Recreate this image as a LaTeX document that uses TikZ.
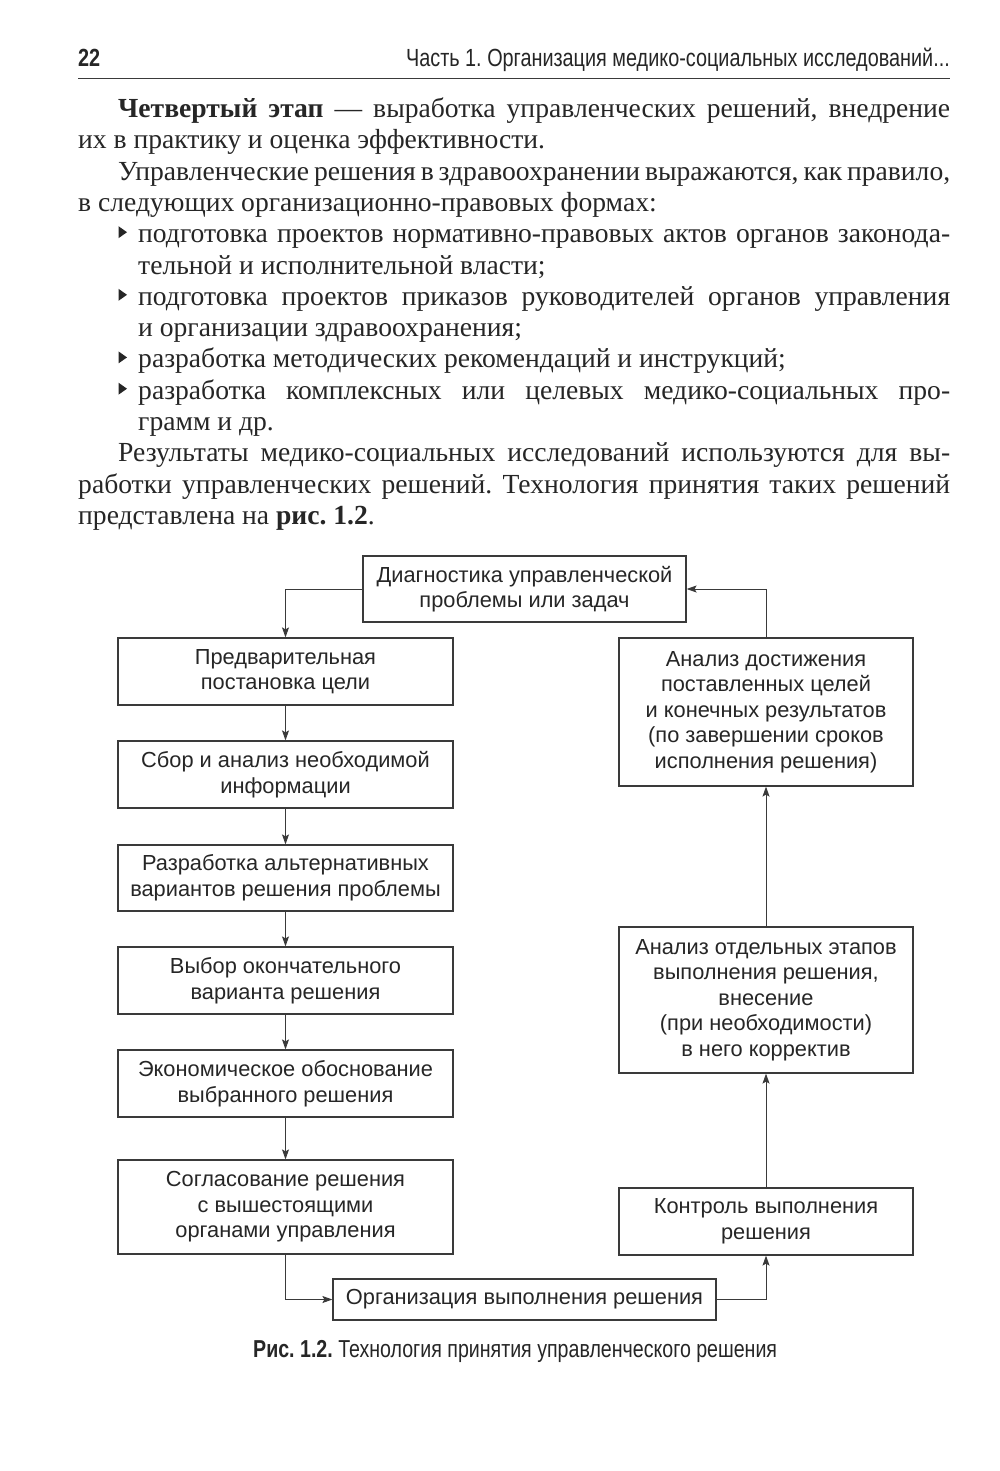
\documentclass[tikz,border=0pt]{standalone}
\usepackage{fontspec}
\setmainfont{Liberation Serif}
\newfontfamily\diagf{Liberation Sans}
\newfontfamily\condf[FakeStretch=0.8]{Liberation Sans}
\usetikzlibrary{arrows.meta}
\definecolor{ink}{HTML}{262626}
\definecolor{lineink}{HTML}{3A3A3A}
\tikzset{
  bodyline/.style={anchor=base west, inner sep=0pt, text=ink, font=\fontsize{27.6}{31}\selectfont},
  box/.style={draw=lineink, line width=1.2pt, rectangle, inner sep=0pt, align=center,
    text=ink, font=\diagf\fontsize{21.8}{25.6}\selectfont},
  conn/.style={draw=lineink, line width=1pt, -{Stealth[length=10pt,width=7pt,inset=2pt]}},
  bulletmark/.style={fill=ink}
}
\newcommand\jl[2]{\makebox[#1][s]{#2}}
\frenchspacing
\begin{document}
\begin{tikzpicture}[x=1pt,y=-1pt]
\useasboundingbox (0,0) rectangle (1000,1471);
\fill[white] (0,0) rectangle (1000,1471);
% header
\node[anchor=base west, inner sep=0pt, text=ink, font=\condf\bfseries\fontsize{24.8}{24.8}\selectfont] (pg) at (78,67) {22};
\node[anchor=base east, inner sep=0pt, text=ink, font=\condf\fontsize{24.8}{24.8}\selectfont] (hd) at (950,67) {Часть 1. Организация медико-социальных исследований...};
\draw[lineink, line width=1.5pt] (78,78.5) -- (950,78.5);
% body
\node[bodyline] (l1) at (118,117.5) {\jl{832pt}{\textbf{Четвертый этап} — выработка управленческих решений, внедрение}};
\node[bodyline] (l2) at (78,148.8) {их в практику и оценка эффективности.};
\node[bodyline] (l3) at (118,180.1) {\jl{832pt}{Управленческие решения в здравоохранении выражаются, как правило,}};
\node[bodyline] (l4) at (78,211.4) {в следующих организационно-правовых формах:};
\node[bodyline] (l5) at (138,242.7) {\jl{812pt}{подготовка проектов нормативно-правовых актов органов законода-}};
\node[bodyline] (l6) at (138,274) {тельной и исполнительной власти;};
\node[bodyline] (l7) at (138,305.3) {\jl{812pt}{подготовка проектов приказов руководителей органов управления}};
\node[bodyline] (l8) at (138,336.6) {и организации здравоохранения;};
\node[bodyline] (l9) at (138,367.9) {разработка методических рекомендаций и инструкций;};
\node[bodyline] (l10) at (138,399.2) {\jl{812pt}{разработка комплексных или целевых медико-социальных про-}};
\node[bodyline] (l11) at (138,430.5) {грамм и др.};
\node[bodyline] (l12) at (118,461.8) {\jl{832pt}{Результаты медико-социальных исследований используются для вы-}};
\node[bodyline] (l13) at (78,493.1) {\jl{872pt}{работки управленческих решений. Технология принятия таких решений}};
\node[bodyline] (l14) at (78,524.4) {представлена на \textbf{рис. 1.2}.};
% bullets
\foreach \yb in {242.7,305.3,367.9,399.2}{
  \fill[bulletmark] (118.5,\yb-16.5) -- (127,\yb-10.5) -- (118.5,\yb-4.5) -- cycle;
}
% diagram
\node[box, minimum width=323pt, minimum height=66pt] (top) at (524.5,589) {Диагностика управленческой\\проблемы или задач};
\node[box, minimum width=335pt, minimum height=67pt] (b1) at (285.5,671.5) {Предварительная\\постановка цели};
\node[box, minimum width=335pt, minimum height=67pt] (b2) at (285.5,774.5) {Сбор и анализ необходимой\\информации};
\node[box, minimum width=335pt, minimum height=66pt] (b3) at (285.5,878) {Разработка альтернативных\\вариантов решения проблемы};
\node[box, minimum width=335pt, minimum height=67pt] (b4) at (285.5,980.5) {Выбор окончательного\\варианта решения};
\node[box, minimum width=335pt, minimum height=67pt] (b5) at (285.5,1083.5) {Экономическое обоснование\\выбранного решения};
\node[box, minimum width=335pt, minimum height=94pt] (b6) at (285.5,1207) {Согласование решения\\с вышестоящими\\органами управления};
\node[box, minimum width=383pt, minimum height=41pt] (org) at (524.5,1299.5) {Организация выполнения решения};
\node[box, minimum width=294pt, minimum height=148pt] (r1) at (766,712) {Анализ достижения\\поставленных целей\\и конечных результатов\\(по завершении сроков\\исполнения решения)};
\node[box, minimum width=294pt, minimum height=146pt] (r2) at (766,1000) {Анализ отдельных этапов\\выполнения решения,\\внесение\\(при необходимости)\\в него корректив};
\node[box, minimum width=294pt, minimum height=67pt] (r3) at (766,1221.5) {Контроль выполнения\\решения};
\draw[conn] (top.west) -| (b1.north);
\draw[conn] (b1) -- (b2);
\draw[conn] (b2) -- (b3);
\draw[conn] (b3) -- (b4);
\draw[conn] (b4) -- (b5);
\draw[conn] (b5) -- (b6);
\draw[conn] (b6.south) |- (org.west);
\draw[conn] (org.east) -| (r3.south);
\draw[conn] (r3) -- (r2);
\draw[conn] (r2) -- (r1);
\draw[conn] (r1.north) |- (top.east);
% caption
\node[anchor=base west, inner sep=0pt, text=ink, font=\condf\fontsize{24.5}{24.5}\selectfont] (cap) at (253,1357) {\textbf{Рис. 1.2.} Технология принятия управленческого решения};
\end{tikzpicture}
\end{document}
